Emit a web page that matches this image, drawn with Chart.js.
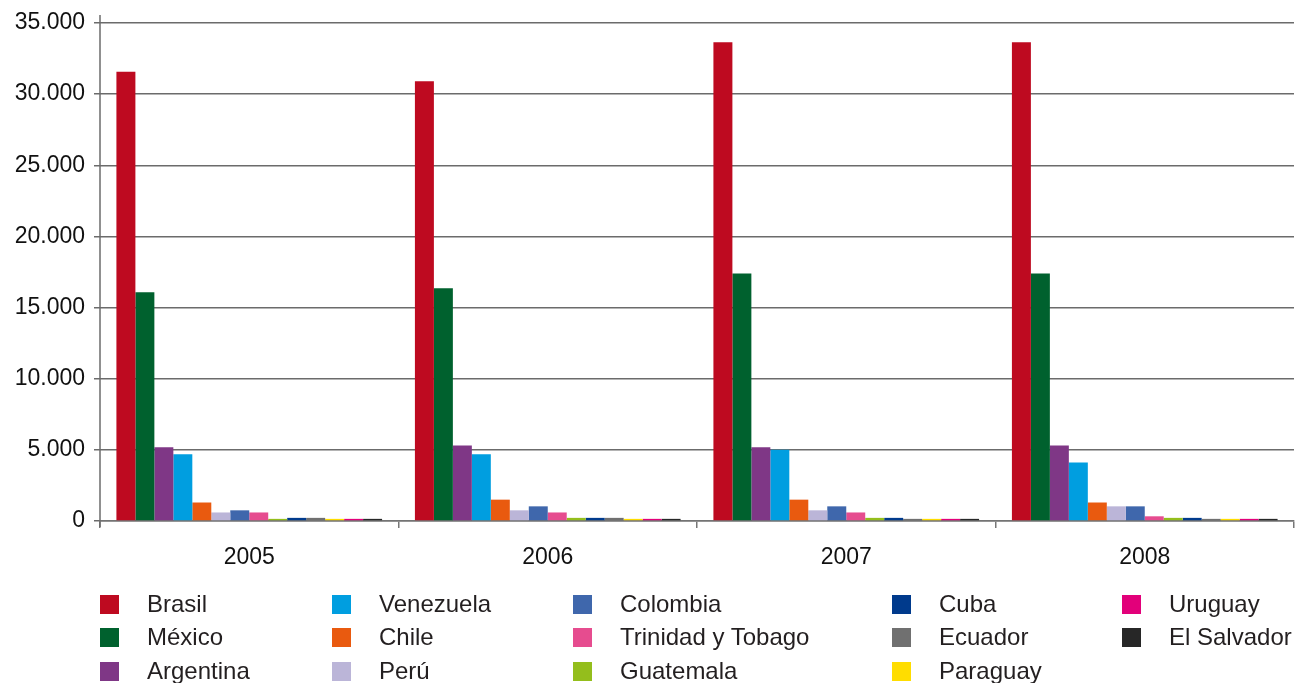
<!DOCTYPE html>
<html>
<head>
<meta charset="utf-8">
<script src="https://cdn.jsdelivr.net/npm/chart.js@4.4.1/dist/chart.umd.min.js"></script>
<style>
  html, body { margin: 0; padding: 0; background: #fff; }
  #wrap { position: relative; width: 1296px; height: 683px; }
  #legend {
    position: absolute; left: 0; top: 0; width: 1296px; height: 683px;
    font-family: 'Liberation Sans', Arial, sans-serif; font-size: 24px; color: #231f20;
  }
  .item { position: absolute; height: 30px; display: flex; align-items: center; white-space: nowrap; }
  .box { width: 19px; height: 19px; margin-right: 28px; }
</style>
</head>
<body>
<div id="wrap">
  <canvas id="chart" width="1296" height="683"></canvas>
  <div id="legend"></div>
</div>
<script>
// categories
const years = ['2005', '2006', '2007', '2008'];

// series values (one per year)
const brasil = [31570, 30900, 33650, 33650];
const mexico = [16070, 16350, 17400, 17400];
const argentina = [5180, 5300, 5180, 5300];
const venezuela = [4690, 4690, 5000, 4110];
const chile = [1300, 1500, 1500, 1300];
const peru = [600, 750, 750, 1030];
const colombia = [750, 1030, 1030, 1030];
const trinidad = [600, 600, 600, 330];
const guatemala = [150, 220, 220, 220];
const cuba = [220, 220, 220, 220];
const ecuador = [220, 220, 150, 150];
const paraguay = [150, 150, 150, 150];
const uruguay = [150, 150, 150, 150];
const elSalvador = [150, 150, 150, 150];

// y axis ticks
const yTicks = [0, 5000, 10000, 15000, 20000, 25000, 30000, 35000];

const series = [
  { label: 'Brasil', data: brasil, color: '#BE0A20' },
  { label: 'México', data: mexico, color: '#00612E' },
  { label: 'Argentina', data: argentina, color: '#7F3786' },
  { label: 'Venezuela', data: venezuela, color: '#009EE0' },
  { label: 'Chile', data: chile, color: '#E95A0F' },
  { label: 'Perú', data: peru, color: '#BBB5D8' },
  { label: 'Colombia', data: colombia, color: '#3F67AC' },
  { label: 'Trinidad y Tobago', data: trinidad, color: '#E64C8F' },
  { label: 'Guatemala', data: guatemala, color: '#94BE1C' },
  { label: 'Cuba', data: cuba, color: '#003A8C' },
  { label: 'Ecuador', data: ecuador, color: '#707070' },
  { label: 'Paraguay', data: paraguay, color: '#FFDD00' },
  { label: 'Uruguay', data: uruguay, color: '#E2007A' },
  { label: 'El Salvador', data: elSalvador, color: '#272727' },
];

const fontFamily = "'Liberation Sans', Arial, sans-serif";

function thousands(v) {
  return String(v).replace(/\B(?=(\d{3})+(?!\d))/g, '.');
}

// y axis line runs a bit past the chart area like the original
const axisLinePlugin = {
  id: 'axisLine',
  afterDraw(chart) {
    const ctx = chart.ctx;
    const area = chart.chartArea;
    ctx.save();
    ctx.strokeStyle = '#6b6b6b';
    ctx.lineWidth = 1.5;
    ctx.beginPath();
    ctx.moveTo(area.left, area.top - 8);
    ctx.lineTo(area.left, area.bottom + 6);
    ctx.stroke();
    ctx.restore();
  },
};

const chart = new Chart(document.getElementById('chart'), {
  type: 'bar',
  data: {
    labels: years,
    datasets: series.map(s => ({
      label: s.label,
      data: s.data,
      backgroundColor: s.color,
      borderWidth: 0,
      categoryPercentage: 0.89,
      barPercentage: 1.0,
    })),
  },
  options: {
    responsive: false,
    animation: false,
    devicePixelRatio: 1,
    layout: { padding: { top: 23, right: 2, bottom: 112, left: 0 } },
    plugins: {
      legend: { display: false },
      tooltip: { enabled: false },
    },
    scales: {
      x: {
        z: 1,
        grid: {
          display: true,
          drawOnChartArea: false,
          drawTicks: true,
          tickLength: 7,
          offset: true,
          color: '#777',
          lineWidth: 1.5,
        },
        border: { display: true, color: 'rgba(120,120,120,0.7)', width: 1.8 },
        ticks: {
          color: '#111',
          padding: 16,
          font: { family: fontFamily, size: 23 },
        },
        afterFit(scale) { scale.height = 50; },
      },
      y: {
        z: 1,
        min: 0,
        max: 35000,
        afterBuildTicks(scale) { scale.ticks = yTicks.map(v => ({ value: v })); },
        grid: { color: '#6b6b6b', lineWidth: 1.5, tickLength: 6 },
        border: { display: false },
        ticks: {
          color: '#111',
          padding: 9,
          font: { family: fontFamily, size: 23 },
          callback: v => thousands(v),
        },
        afterFit(scale) { scale.width = 100; },
      },
    },
  },
  plugins: [axisLinePlugin],
});

// legend in column order, 3 rows per column
const colX = [100, 332, 573, 892, 1122];
const rowY = [604, 637, 671];
const legend = document.getElementById('legend');
chart.data.datasets.forEach((ds, i) => {
  const item = document.createElement('div');
  item.className = 'item';
  item.style.left = colX[Math.floor(i / 3)] + 'px';
  item.style.top = (rowY[i % 3] - 15) + 'px';
  item.innerHTML = `<span class="box" style="background:${ds.backgroundColor}"></span><span>${ds.label}</span>`;
  legend.appendChild(item);
});
</script>
</body>
</html>
